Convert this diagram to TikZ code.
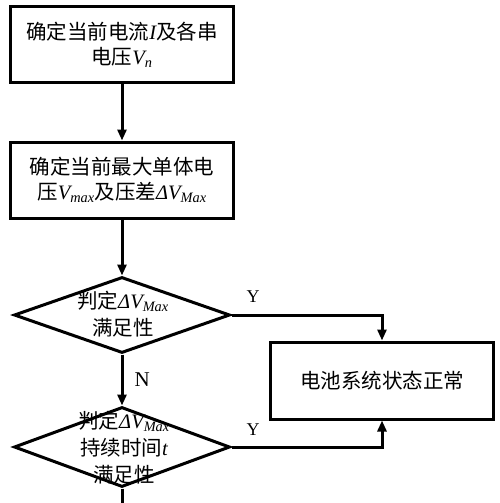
\documentclass[tikz,border=0pt]{standalone}
\usepackage{fontspec}
\setmainfont{Liberation Serif}
\newfontfamily\cjk{Noto Sans CJK SC}
\usetikzlibrary{shapes.geometric,arrows.meta}
\newcommand\mylat[1]{{\rmfamily\itshape #1}}
\newcommand\mysub[1]{\textsubscript{\rmfamily\itshape #1}}
\begin{document}
\begin{tikzpicture}[x=1pt,y=-1pt,line width=3pt,
  box/.style={draw,inner sep=0pt,align=center,font=\cjk\fontsize{20.5}{25}\selectfont},
  dia/.style={draw,diamond,inner sep=0pt,minimum width=216pt},
  txt/.style={inner sep=0pt,align=center,font=\cjk\fontsize{20.5}{27}\selectfont},
  lab/.style={inner sep=0pt,font=\rmfamily\fontsize{18}{20}\selectfont},
  arr/.style={-{Triangle[length=11pt,width=9pt]}}]
\useasboundingbox (0,0) rectangle (500,503);
\node[box,minimum width=223pt,minimum height=75pt] (b1) at (122,44.5)
  {确定当前电流\mylat{I}及各串\\电压\mylat{V}\mysub{n}};
\node[box,minimum width=223pt,minimum height=76pt] (b2) at (122,180)
  {确定当前最大单体电\\压\mylat{V}\mysub{max}及压差\mylat{ΔV}\mysub{Max}};
\node[dia,minimum height=76pt] (d1) at (122,315) {};
\node[txt] (t1) at (123,314) {判定\mylat{ΔV}\mysub{Max}\\满足性};
\node[dia,minimum height=80pt] (d2) at (122,447) {};
\node[txt] (t2) at (124,448) {判定\mylat{ΔV}\mysub{Max}\\持续时间\mylat{t}\\满足性};
\node[box,minimum width=223pt,minimum height=77pt] (b3) at (382,380.5) {电池系统状态正常};
\coordinate (end) at (122,503);
\draw[arr] (b1.south) -- (b2.north);
\draw[arr] (b2.south) -- (d1.north);
\draw[arr] (d1.south) -- node[lab,font=\rmfamily\fontsize{21}{22}\selectfont,right=11pt] (n1) {N} (d2.north);
\draw (d2.south) -- (end);
\draw[arr] (d1.east) -- (b3.north |- d1.east) -- (b3.north);
\draw[arr] (d2.east) -- (b3.south |- d2.east) -- (b3.south);
\node[lab] (y1) at (253,297) {Y};
\node[lab] (y2) at (253,430) {Y};
\end{tikzpicture}
\end{document}
